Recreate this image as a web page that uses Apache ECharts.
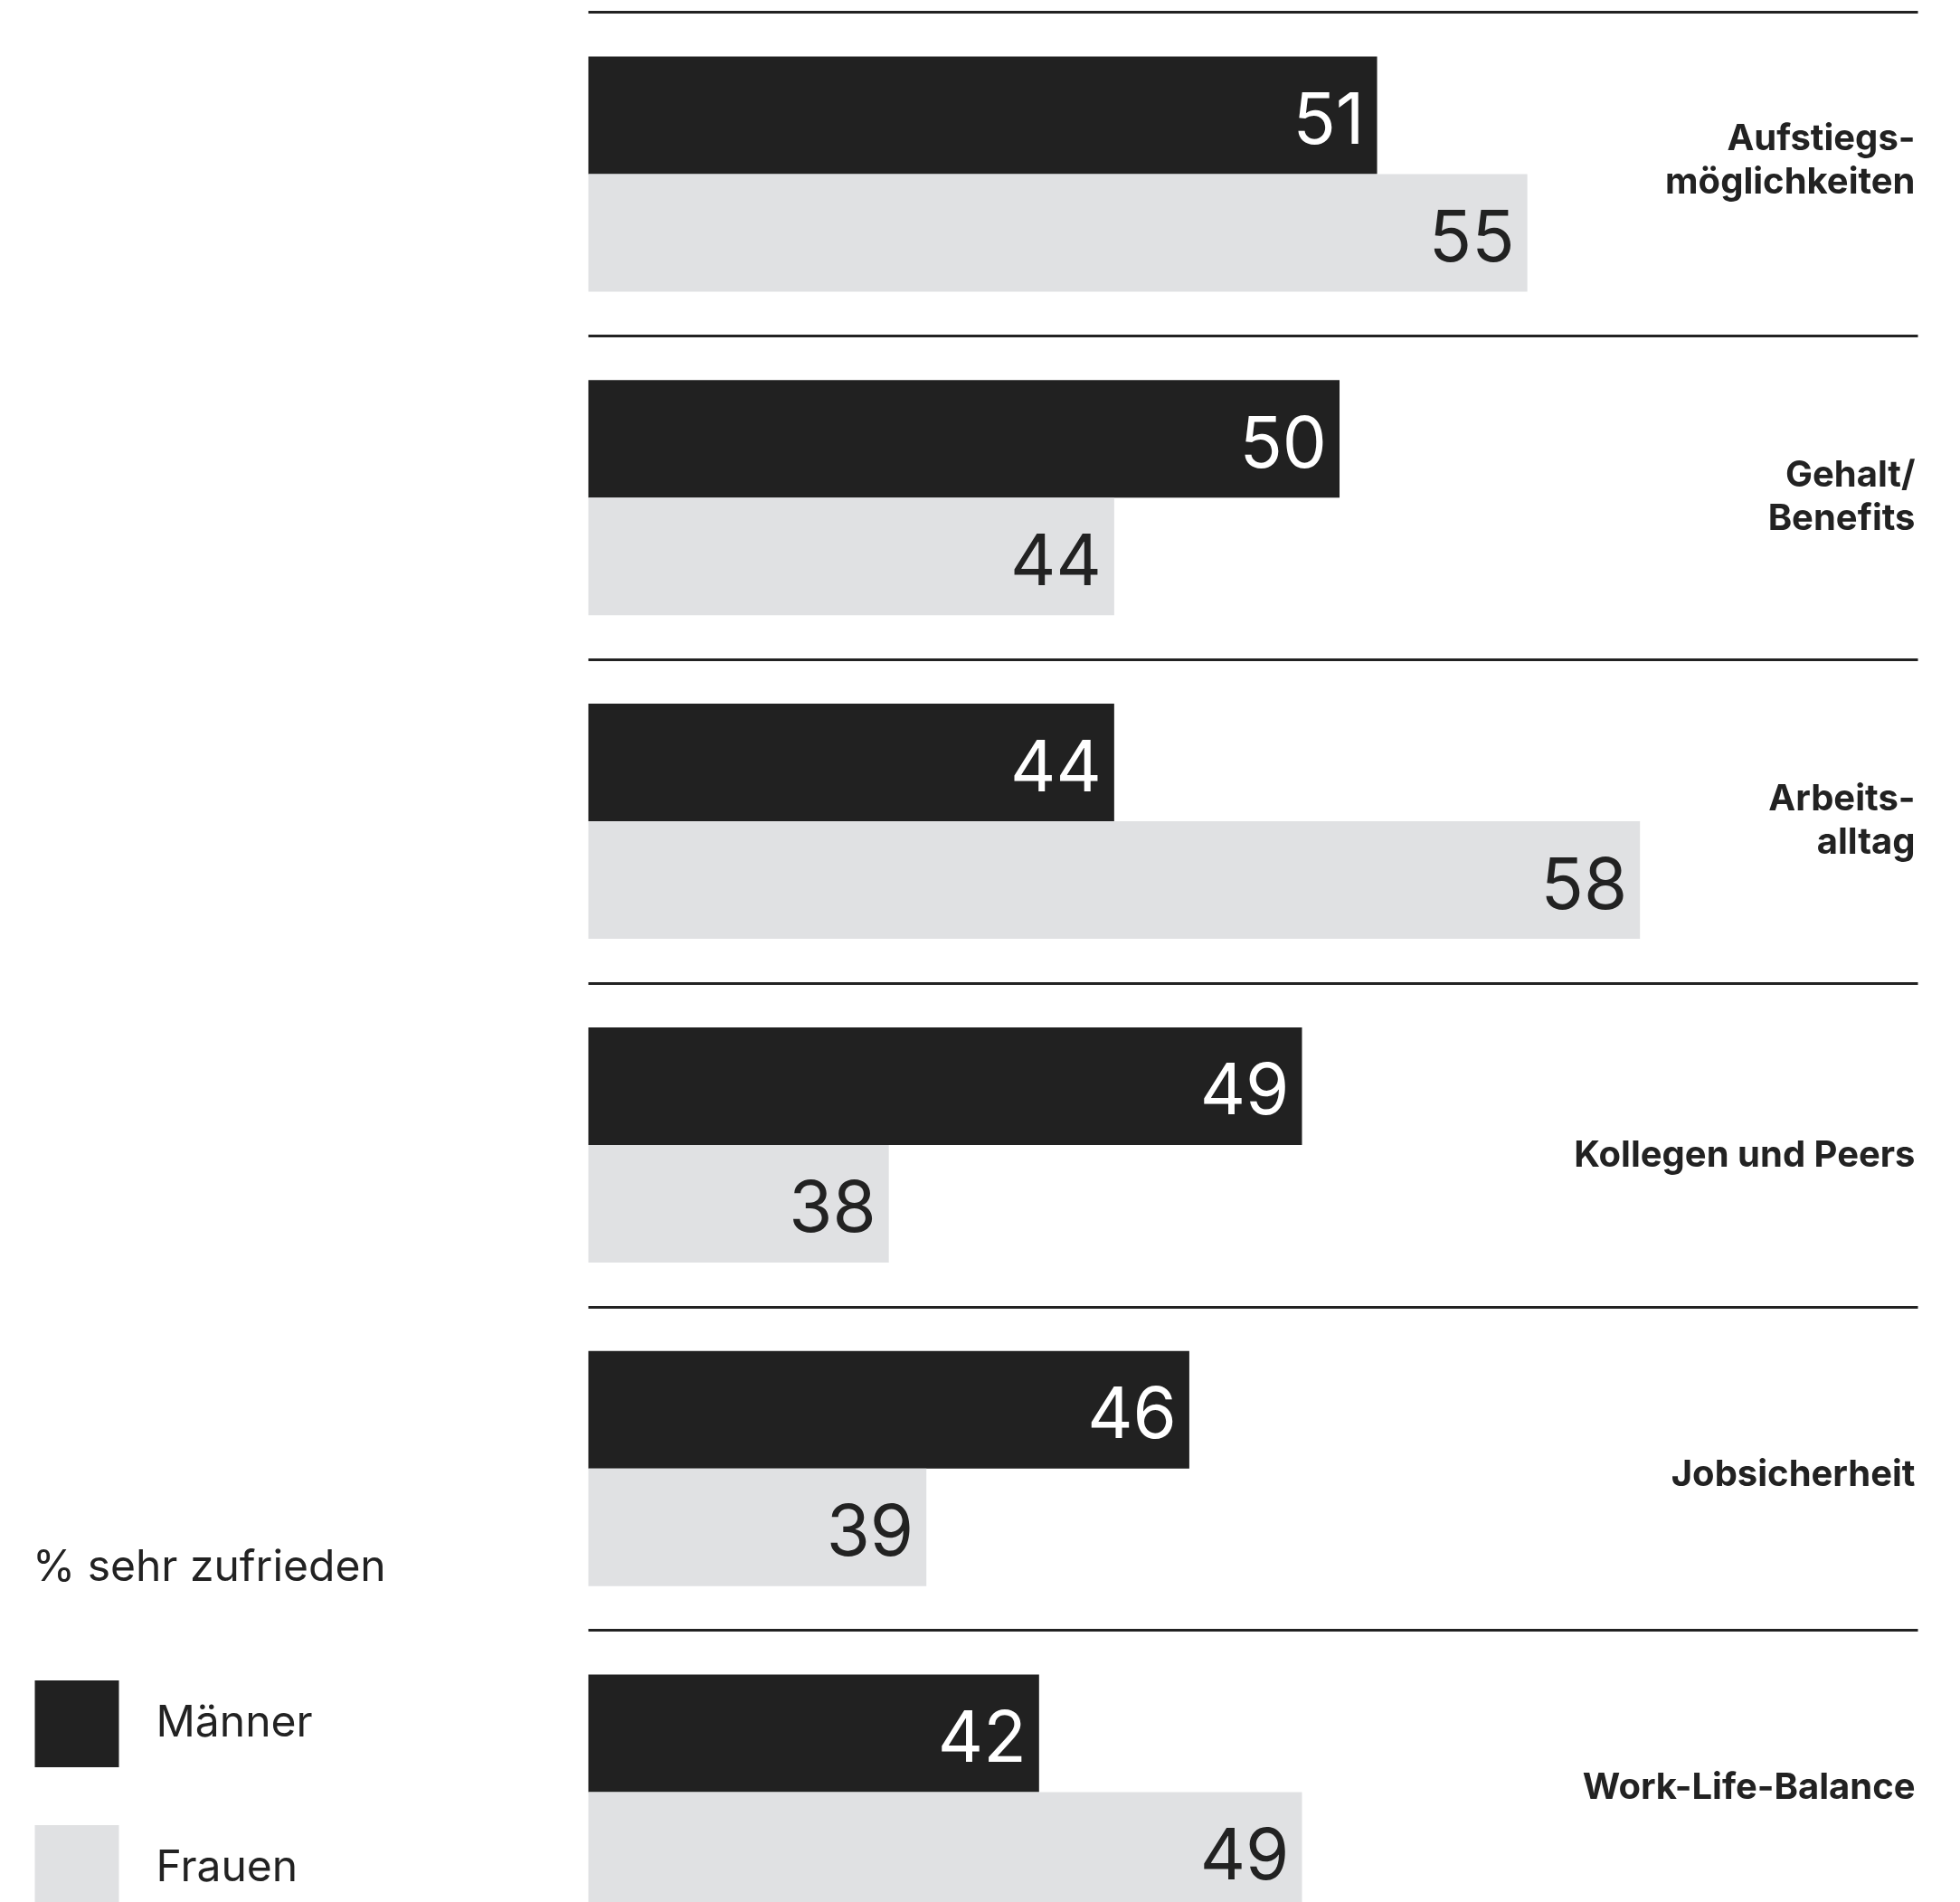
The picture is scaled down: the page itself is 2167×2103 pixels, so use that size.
<!DOCTYPE html>
<html lang="de">
<head>
    <meta charset="UTF-8">
    <title>Zufriedenheit Männer / Frauen</title>
    <script src="https://cdn.jsdelivr.net/npm/echarts@6/dist/echarts.min.js"></script>
    <style>
        html, body {
            margin: 0;
            padding: 0;
            background: #fff;
        }

        #chart {
            width: 2167px;
            height: 2103px;
        }
    </style>
</head>
<body>
<div id="chart"></div>

<script>
    // Kategorien (von oben nach unten)
    const categories = [
        'Aufstiegs-\nmöglichkeiten',
        'Gehalt/\nBenefits',
        'Arbeits-\nalltag',
        'Kollegen und Peers',
        'Jobsicherheit',
        'Work-Life-Balance'
    ];
    const seriesNames = ['Männer', 'Frauen'];
    const maenner = [51, 50, 44, 49, 46, 42];
    const frauen = [55, 44, 58, 38, 39, 49];
    const unitLabel = '% sehr zufrieden';

    const dark = '#212121';
    const light = '#e0e1e3';
    const fontNum = 'Inter, "Liberation Sans", sans-serif';
    // kleine vertikale Verschiebung der Beschriftungen (px, + = nach unten)
    const labelNudge = [-14, 0, 0, 12, 7, -5];

    // Rich-Styles je Kategorie: Padding oben/unten verschiebt den Text um die Hälfte
    const labelRich = {};
    labelNudge.forEach((d, i) => {
        labelRich['n' + i] = {
            fontFamily: 'Inter, sans-serif',
            fontWeight: 700,
            fontSize: 40,
            lineHeight: 48,
            color: '#222',
            align: 'right',
            padding: d >= 0 ? [2 * d, 0, 0, 0] : [0, 0, -2 * d, 0]
        };
    });

    var chart = echarts.init(document.getElementById('chart'));
    chart.setOption({
        animation: false,
        backgroundColor: '#fff',
        title: {
            text: unitLabel,
            left: 31,
            top: 1705,
            textStyle: {
                fontFamily: fontNum,
                fontSize: 48,
                fontWeight: 400,
                color: '#222'
            }
        },
        legend: {
            orient: 'vertical',
            left: 33.5,
            top: 1853,
            height: 320,
            itemWidth: 93,
            itemHeight: 96,
            itemGap: 64,
            icon: 'rect',
            data: seriesNames,
            textStyle: {
                fontFamily: fontNum,
                fontSize: 48,
                color: '#222',
                padding: [0, 0, 0, 36]
            }
        },
        grid: {
            left: 650.5,
            top: 13.5,
            width: 1470,
            height: 2147,
            outerBoundsMode: 'none',
            containLabel: false
        },
        xAxis: {
            type: 'value',
            min: 30,
            max: 65.4,
            axisLine: {show: false},
            axisTick: {show: false},
            axisLabel: {show: false},
            splitLine: {show: false}
        },
        yAxis: {
            type: 'category',
            inverse: true,
            position: 'right',
            data: categories,
            axisLine: {show: false},
            axisTick: {show: false},
            splitLine: {
                show: true,
                lineStyle: {color: '#222', width: 3}
            },
            axisLabel: {
                inside: true,
                margin: 3,
                align: 'right',
                fontFamily: 'Inter, sans-serif',
                fontWeight: 700,
                fontSize: 40,
                lineHeight: 48,
                color: '#222',
                formatter: function (value, idx) {
                    return value.split('\n').map(s => '{n' + idx + '|' + s + '}').join('\n');
                },
                rich: labelRich
            }
        },
        series: [
            {
                name: seriesNames[0],
                type: 'bar',
                data: maenner,
                barWidth: 130,
                barGap: '0%',
                itemStyle: {color: dark},
                label: {
                    show: true,
                    position: 'insideRight',
                    distance: 14,
                    offset: [0, 8],
                    fontFamily: fontNum,
                    fontSize: 78,
                    color: '#fff'
                }
            },
            {
                name: seriesNames[1],
                type: 'bar',
                data: frauen,
                barWidth: 130,
                barGap: '0%',
                itemStyle: {color: light},
                label: {
                    show: true,
                    position: 'insideRight',
                    distance: 14,
                    offset: [0, 8],
                    fontFamily: fontNum,
                    fontSize: 78,
                    color: '#222'
                }
            }
        ]
    });
</script>
</body>
</html>
